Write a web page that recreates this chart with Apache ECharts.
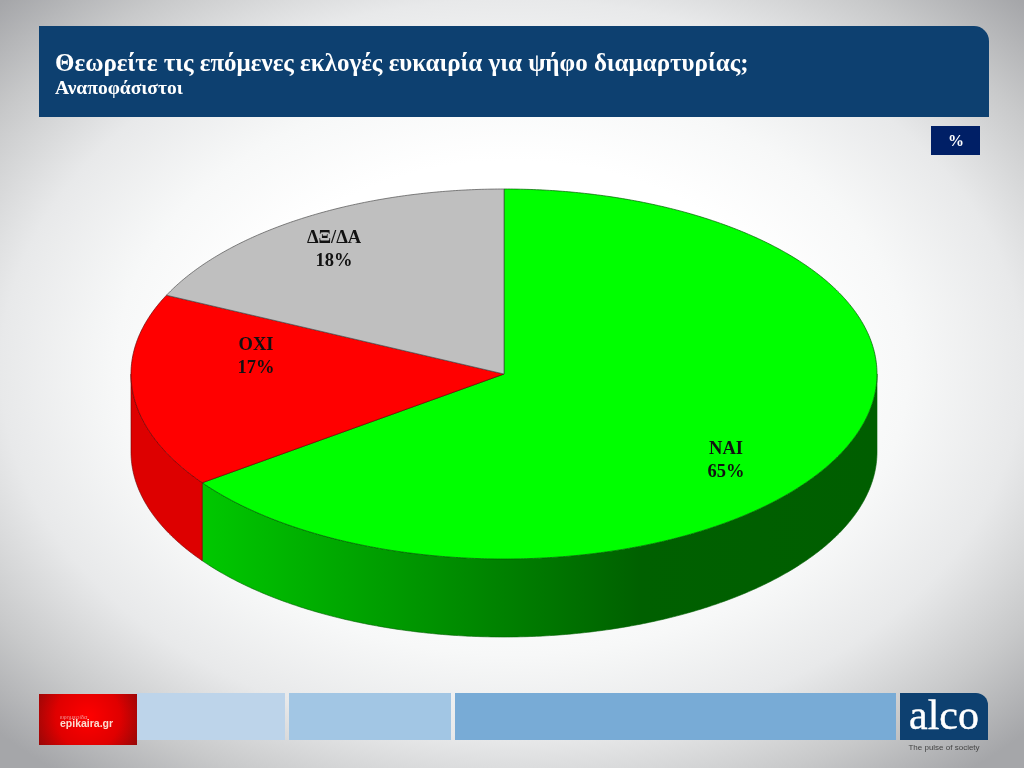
<!DOCTYPE html>
<html><head><meta charset="utf-8">
<style>
html,body{margin:0;padding:0;width:1024px;height:768px;overflow:hidden;
background:radial-gradient(ellipse 720px 520px at 50% 48%,#ffffff 0%,#ffffff 40%,#f7f8f8 55%,#e8e9ea 71%,#c8c9ca 86%,#a5a6a9 100%);}
#c{width:1024px;height:768px}
</style>
<script src="https://cdn.jsdelivr.net/npm/echarts@6/dist/echarts.min.js"></script>
</head><body><div id="c"></div>
<script>
const titleText = 'Θεωρείτε τις επόμενες εκλογές ευκαιρία για ψήφο διαμαρτυρίας;';
const subtitleText = 'Αναποφάσιστοι';
const unitText = '%';
const categories = ['ΝΑΙ', 'ΟΧΙ', 'ΔΞ/ΔΑ'];
const shares = [65, 17, 18];

const P = {cx: 504, cy: 374, rx: 373, ry: 185, depth: 78};
const serif = '"Liberation Serif","Times New Roman",serif';
const sliceStyle = [
  {top: '#00ff00', line: '#006000',
   wall: {type: 'linear', global: true, x: 203, y: 0, x2: 877, y2: 0,
     colorStops: [{offset: 0, color: '#00c800'}, {offset: 0.65, color: '#006000'}, {offset: 1, color: '#005e00'}]}},
  {top: '#ff0000', line: '#700000', wall: '#dd0000'},
  {top: '#bfbfbf', line: '#505050', wall: '#8f8f8f'}
];
const labelCentres = [[726, 461], [256, 357], [334, 250]];
const total = shares.reduce((a, b) => a + b, 0);

function pt(deg, dy) {
  const t = deg * Math.PI / 180;
  return [P.cx + P.rx * Math.sin(t), P.cy - P.ry * Math.cos(t) + (dy || 0)];
}
function arc(a, b, dy) {
  const n = Math.max(2, Math.ceil(Math.abs(b - a) * 2)), out = [];
  for (let i = 0; i <= n; i++) out.push(pt(a + (b - a) * i / n, dy));
  return out;
}
function renderSlice(params, api) {
  const i = params.dataIndex;
  let before = 0;
  for (let k = 0; k < i; k++) before += shares[k];
  const a = before / total * 360, b = (before + api.value(1)) / total * 360;
  const st = sliceStyle[i], children = [];
  const wa = Math.max(a, 90), wb = Math.min(b, 270);
  if (wb > wa) {
    children.push({type: 'polygon', shape: {points: arc(wa, wb, 0).concat(arc(wb, wa, P.depth))},
      style: {fill: st.wall, stroke: st.line, lineWidth: 0.6}});
  }
  children.push({type: 'polygon', shape: {points: [[P.cx, P.cy]].concat(arc(a, b, 0))},
    style: {fill: st.top, stroke: st.line, lineWidth: 0.7}});
  const lc = labelCentres[i];
  children.push({type: 'text', z2: 50, x: lc[0], y: lc[1], style: {
    text: categories[i] + '\n' + api.value(1) + '%', fill: '#111', align: 'center', verticalAlign: 'middle',
    font: 'bold 18.5px ' + serif, lineHeight: 23}});
  return {type: 'group', children};
}
const band = (x, w, c) => ({type: 'rect', shape: {x, y: 693, width: w, height: 47}, style: {fill: c}});
const chart = echarts.init(document.getElementById('c'), null, {renderer: 'canvas'});
chart.setOption({
  animation: false,
  backgroundColor: 'transparent',
  series: [{
    type: 'custom', coordinateSystem: 'none', renderItem: renderSlice,
    data: categories.map((c, i) => ({name: c, value: [i, shares[i]]}))
  }],
  graphic: [
    {type: 'rect', shape: {x: 39, y: 26, width: 950, height: 91, r: [0, 15, 0, 0]}, style: {fill: '#0d4070'}},
    {type: 'text', x: 55, y: 52, style: {text: titleText, fill: '#fff', font: 'bold 25px ' + serif}},
    {type: 'text', x: 55, y: 79, style: {text: subtitleText, fill: '#fff', font: 'bold 19.5px ' + serif}},
    {type: 'rect', shape: {x: 931, y: 126, width: 49, height: 29}, style: {fill: '#001f66'}},
    {type: 'text', x: 956, y: 142, style: {text: unitText, fill: '#fff', align: 'center', verticalAlign: 'middle', font: 'bold 16px ' + serif}},
    band(137, 148, '#bdd4ea'), band(289, 162, '#a2c6e4'), band(455, 441, '#78abd6'),
    {type: 'rect', shape: {x: 39, y: 694, width: 98, height: 51},
      style: {fill: {type: 'radial', x: 0.5, y: 0.45, r: 1.15, colorStops: [{offset: 0, color: '#ff0000'}, {offset: 0.55, color: '#e00000'}, {offset: 1, color: '#900808'}]}}},
    {type: 'text', x: 60, y: 714, style: {text: 'εφημερίδα', fill: '#f09090', font: '6px "Liberation Sans",sans-serif'}},
    {type: 'text', x: 60, y: 719, style: {text: 'epikaira.gr', fill: '#fbdcd0', font: 'bold 10.5px "Liberation Sans",sans-serif'}},
    {type: 'rect', shape: {x: 900, y: 693, width: 88, height: 47, r: [0, 12, 0, 0]}, style: {fill: '#0d4070'}},
    {type: 'text', x: 944, y: 718, style: {text: 'alco', fill: '#fff', stroke: '#fff', lineWidth: 0.4, align: 'center', verticalAlign: 'middle', font: '42px ' + serif}},
    {type: 'text', x: 944, y: 748, style: {text: 'The pulse of society', fill: '#444', align: 'center', verticalAlign: 'middle', font: '8px "Liberation Sans",sans-serif'}}
  ]
});
</script></body></html>
